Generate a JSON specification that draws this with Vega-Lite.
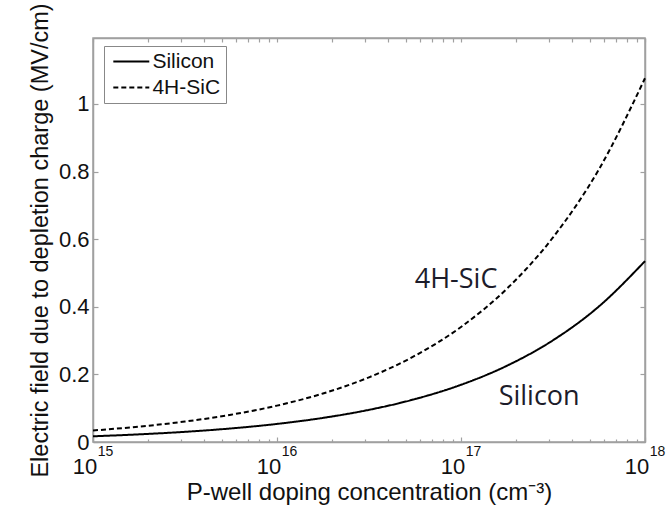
{
  "$schema": "https://vega.github.io/schema/vega-lite/v6.json",
  "autosize": "none",
  "padding": {"left": 93, "top": 38, "right": 24, "bottom": 67},
  "width": 552,
  "height": 404,
  "background": "white",
  "config": {
    "view": {"stroke": "#a0a0a0", "strokeWidth": 1.5},
    "axis": {"grid": false, "labelFlush": false, "domainColor": "#a0a0a0", "domainWidth": 1.5, "tickColor": "#a0a0a0", "tickWidth": 1.2, "labelFont": "Liberation Sans", "titleFont": "Liberation Sans", "labelColor": "#111", "titleColor": "#111", "labelFontSize": 22, "titleFontSize": 23.5, "titleFontWeight": "normal"}
  },
  "datasets": {
    "curves": [
      {"N": 1e15, "E": 0.0169, "material": "Silicon"},
      {"N": 1.778e15, "E": 0.0226, "material": "Silicon"},
      {"N": 3.162e15, "E": 0.0301, "material": "Silicon"},
      {"N": 5.623e15, "E": 0.0401, "material": "Silicon"},
      {"N": 1e16, "E": 0.0535, "material": "Silicon"},
      {"N": 1.778e16, "E": 0.0713, "material": "Silicon"},
      {"N": 3.162e16, "E": 0.0951, "material": "Silicon"},
      {"N": 5.623e16, "E": 0.1269, "material": "Silicon"},
      {"N": 1e17, "E": 0.1692, "material": "Silicon"},
      {"N": 1.778e17, "E": 0.2256, "material": "Silicon"},
      {"N": 3.162e17, "E": 0.3009, "material": "Silicon"},
      {"N": 5.623e17, "E": 0.4012, "material": "Silicon"},
      {"N": 1e18, "E": 0.535, "material": "Silicon"},
      {"N": 1e15, "E": 0.034, "material": "4H-SiC"},
      {"N": 1.778e15, "E": 0.0454, "material": "4H-SiC"},
      {"N": 3.162e15, "E": 0.0605, "material": "4H-SiC"},
      {"N": 5.623e15, "E": 0.0807, "material": "4H-SiC"},
      {"N": 1e16, "E": 0.1076, "material": "4H-SiC"},
      {"N": 1.778e16, "E": 0.1435, "material": "4H-SiC"},
      {"N": 3.162e16, "E": 0.1913, "material": "4H-SiC"},
      {"N": 5.623e16, "E": 0.2552, "material": "4H-SiC"},
      {"N": 1e17, "E": 0.3403, "material": "4H-SiC"},
      {"N": 1.778e17, "E": 0.4537, "material": "4H-SiC"},
      {"N": 3.162e17, "E": 0.6051, "material": "4H-SiC"},
      {"N": 5.623e17, "E": 0.8069, "material": "4H-SiC"},
      {"N": 1e18, "E": 1.076, "material": "4H-SiC"}
    ],
    "notes": [
      {"N": 9.4e16, "E": 0.479, "label": "4H-SiC"},
      {"N": 2.66e17, "E": 0.134, "label": "Silicon"}
    ]
  },
  "layer": [
    {
      "data": {"name": "curves"},
      "mark": {"type": "line", "color": "black", "strokeWidth": 2, "interpolate": "monotone"},
      "encoding": {
        "x": {"field": "N", "type": "quantitative", "scale": {"type": "log", "domain": [1e15, 1e18], "nice": false},
          "axis": {"orient": "bottom", "values": [1e15, 1e16, 1e17, 1e18], "labelExpr": "'10'", "labelOffset": -8.5, "tickSize": -5, "labelPadding": 19, "title": "P-well doping concentration (cm⁻³)", "titleFontSize": 24, "titlePadding": 3}},
        "y": {"field": "E", "type": "quantitative", "scale": {"domain": [0, 1.195], "nice": false, "zero": true},
          "axis": {"orient": "left", "values": [0, 0.2, 0.4, 0.6, 0.8, 1], "format": "~g", "tickSize": -5, "labelPadding": 9, "title": "Electric field due to depletion charge (MV/cm)", "titlePadding": 6}},
        "strokeDash": {"field": "material", "type": "nominal", "scale": {"domain": ["Silicon", "4H-SiC"], "range": [[1, 0], [5, 3]]},
          "legend": {"title": null, "orient": "none", "legendX": 11, "legendY": 8, "symbolType": "M-2.5,0L2.5,0", "symbolSize": 207, "symbolOffset": 11.8, "symbolStrokeWidth": 2, "symbolStrokeColor": "black", "symbolFillColor": "transparent", "strokeColor": "#888", "padding": 5, "labelFont": "Liberation Sans", "labelFontSize": 21, "labelColor": "#111", "rowPadding": 4, "labelOffset": 10.6, "fillColor": "white"}}
      }
    },
    {
      "data": {"name": "curves"},
      "mark": {"type": "line", "opacity": 0},
      "encoding": {
        "x": {"field": "N", "type": "quantitative", "scale": {"type": "log", "domain": [1e15, 1e18], "nice": false},
          "axis": {"orient": "bottom", "values": [2e15, 3e15, 4e15, 5e15, 6e15, 7e15, 8e15, 9e15, 2e16, 3e16, 4e16, 5e16, 6e16, 7e16, 8e16, 9e16, 2e17, 3e17, 4e17, 5e17, 6e17, 7e17, 8e17, 9e17], "labels": false, "tickSize": -3, "domain": false, "title": null}},
        "y": {"field": "E", "type": "quantitative", "scale": {"domain": [0, 1.195], "nice": false},
          "axis": {"orient": "right", "values": [0, 0.2, 0.4, 0.6, 0.8, 1], "labels": false, "tickSize": -5, "title": null}}
      }
    },
    {
      "data": {"name": "curves"},
      "mark": {"type": "line", "opacity": 0},
      "encoding": {
        "x": {"field": "N", "type": "quantitative", "scale": {"type": "log", "domain": [1e15, 1e18], "nice": false},
          "axis": {"orient": "top", "values": [1e15, 2e15, 3e15, 4e15, 5e15, 6e15, 7e15, 8e15, 9e15, 1e16, 2e16, 3e16, 4e16, 5e16, 6e16, 7e16, 8e16, 9e16, 1e17, 2e17, 3e17, 4e17, 5e17, 6e17, 7e17, 8e17, 9e17, 1e18], "labels": false, "tickSize": -4, "title": null}}
      }
    },
    {
      "data": {"name": "notes"},
      "mark": {"type": "text", "font": "Open Sans", "fontSize": 27, "color": "#1c1c2a", "align": "center", "baseline": "middle"},
      "encoding": {
        "x": {"field": "N", "type": "quantitative", "scale": {"type": "log", "domain": [1e15, 1e18], "nice": false},
          "axis": {"orient": "bottom", "values": [1e15, 1e16, 1e17, 1e18], "labelExpr": "datum.value == 1e15 ? '15' : datum.value == 1e16 ? '16' : datum.value == 1e17 ? '17' : '18'", "labelFontSize": 14, "labelOffset": 12, "tickSize": 0, "domain": false, "labelPadding": 2, "title": null}},
        "y": {"field": "E", "type": "quantitative", "scale": {"domain": [0, 1.195], "nice": false}, "axis": null},
        "text": {"field": "label"}
      }
    }
  ],
  "resolve": {"axis": {"x": "independent", "y": "independent"}}
}
